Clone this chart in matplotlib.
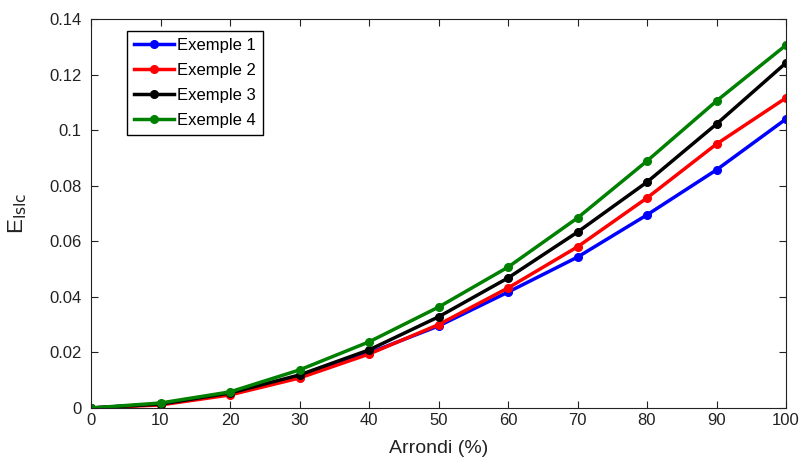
import matplotlib.pyplot as plt

plt.rcParams['font.family'] = ['Liberation Sans', 'DejaVu Sans']

arrondi = [0, 10, 20, 30, 40, 50, 60, 70, 80, 90, 100]
exemple1 = [0, 0.0014, 0.0050, 0.0112, 0.0198, 0.0295, 0.0417, 0.0543, 0.0695, 0.0857, 0.1040]
exemple2 = [0, 0.0011, 0.0047, 0.0108, 0.0194, 0.0300, 0.0432, 0.0580, 0.0756, 0.0950, 0.1116]
exemple3 = [0, 0.0014, 0.0054, 0.0119, 0.0209, 0.0328, 0.0468, 0.0633, 0.0813, 0.1022, 0.1242]
exemple4 = [0, 0.0018, 0.0058, 0.0137, 0.0238, 0.0363, 0.0507, 0.0684, 0.0889, 0.1105, 0.1306]

series = [('Exemple 1', exemple1, '#0000ff'),
          ('Exemple 2', exemple2, '#ff0000'),
          ('Exemple 3', exemple3, '#000000'),
          ('Exemple 4', exemple4, '#008000')]

yticks = [0, 0.02, 0.04, 0.06, 0.08, 0.1, 0.12, 0.14]
ylabels = ['0', '0.02', '0.04', '0.06', '0.08', '0.1', '0.12', '0.14']

fig = plt.figure(figsize=(8, 4.62), dpi=100)
ax = fig.add_axes([91 / 800, 1 - 408 / 462, 695 / 800, 389 / 462])

for name, vals, col in series:
    ax.plot(arrondi, vals, '-o', color=col, lw=2.5, ms=5.5, label=name)

ax.set_xlim(0, 100)
ax.set_ylim(0, 0.14)
ax.set_xticks(arrondi)
ax.set_yticks(yticks)
ax.set_yticklabels(ylabels)
ax.tick_params(direction='in', top=True, right=True, labelsize=12, length=5, colors='#222222')
ax.tick_params(axis='y', pad=7)
for s in ax.spines.values():
    s.set_color('#222222')
ax.set_xlabel('Arrondi (%)', fontsize=14, color='#222222', labelpad=9)
ax.set_ylabel(r'E$_{\mathrm{lslc}}$', fontsize=16, color='#222222', labelpad=14)

leg = ax.legend(loc='upper left', bbox_to_anchor=(0.04, 0.99), fontsize=12,
                fancybox=False, framealpha=1, edgecolor='black',
                handlelength=2.4, labelspacing=0.6, borderpad=0.4, handletextpad=0.2)
leg.get_frame().set_linewidth(1)

fig.savefig('out.png', dpi=100)
